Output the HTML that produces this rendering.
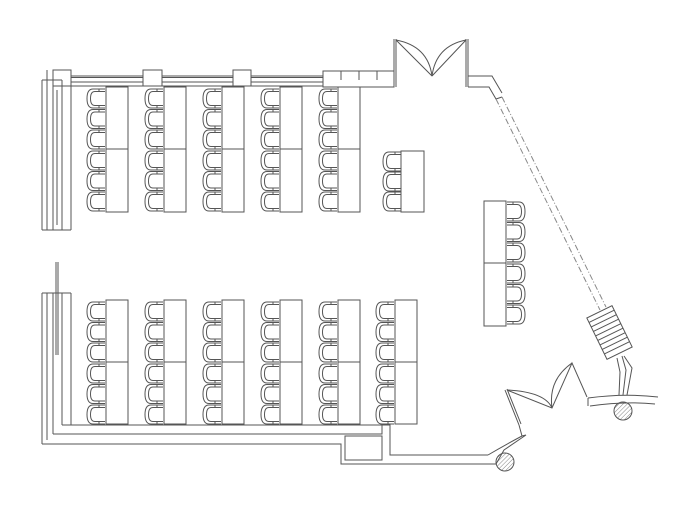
<!DOCTYPE html>
<html><head><meta charset="utf-8"><style>html,body{margin:0;padding:0;background:#fff}svg{display:block}</style></head>
<body>
<svg width="690" height="518" viewBox="0 0 690 518" xmlns="http://www.w3.org/2000/svg" fill="none" stroke="#555" stroke-width="1">
<defs>
<symbol id="c" viewBox="0 0 20 21" width="20" height="21" overflow="visible">
<path d="M19 1H7Q1 1 1 10.5Q1 20 7 20H19"/>
<path d="M19 3.5H9Q4.5 3.5 4.5 10.5Q4.5 17.5 9 17.5H19"/>
<path d="M13 1V3.5M13 17.5V20"/>
</symbol>
<symbol id="cr" viewBox="0 0 20 21" width="20" height="21" overflow="visible">
<path d="M1 1H13Q19 1 19 10.5Q19 20 13 20H1"/>
<path d="M1 3.5H11Q15.5 3.5 15.5 10.5Q15.5 17.5 11 17.5H1"/>
<path d="M7 1V3.5M7 17.5V20"/>
</symbol>
<pattern id="h" width="3" height="3" patternUnits="userSpaceOnUse" patternTransform="rotate(45)"><line x1="0" y1="0" x2="0" y2="3" stroke="#666" stroke-width="0.8"/></pattern>
</defs>

<!-- top wall -->
<path d="M53 76H394M71 77.5H394M71 82H323M62 86H323"/>
<rect x="53" y="70" width="18" height="16" fill="#fff"/>
<rect x="143" y="70" width="19" height="16" fill="#fff"/>
<rect x="233" y="70" width="18" height="16" fill="#fff"/>
<rect x="323" y="71" width="71" height="16" fill="#fff"/>
<path d="M341 71V80M359 71V80M377 71V80"/>
<!-- top door -->
<path d="M394 39V87M396 39V87M466 39V87M468 39V87"/>
<path d="M396 40L432 76M466 40L432 76"/>
<path d="M396 40Q428 46 432 76M466 40Q436 46 432 76"/>
<path d="M468 76H492L502 93M468 87H489L496 99L502 97"/>
<!-- diagonal wall -->
<path d="M496 99L600 310M502 97L606 307" stroke="#888" stroke-dasharray="6 2 1 2"/>
<!-- radiator -->
<g transform="translate(609.5 332.5) rotate(-26)">
<rect x="-14" y="-23" width="28" height="46" fill="#fff"/>
<path d="M-14 -18H14M-14 -13H14M-14 -8H14M-14 -3H14M-14 2H14M-14 7H14M-14 12H14M-14 17H14"/>
</g>
<path d="M617 358L620 372L619 395M622 356L626 370L623 395M624 356L632 368L627 395"/>
<!-- right curved wall -->
<path d="M588 398Q625 393 658 397M590 406Q625 401 655 404M588 398V406"/>
<circle cx="623" cy="411" r="9" fill="url(#h)"/>
<circle cx="505" cy="462" r="9" fill="url(#h)"/>
<!-- right bottom door -->
<path d="M505 390L519 425M507 389L521 424"/>
<path d="M507 390L552 408L572 363L587 397"/>
<path d="M507 390Q545 392 552 408M572 363Q548 380 552 408"/>
<path d="M519 425L522 436Q505 445 488 455M522 436L526 435L504 450L496 464"/>
<!-- left walls -->
<path d="M42 80V230M47 70V230M53 86V230M57 90V225M62 80V230M71 86V230"/>
<path d="M42 80H62M42 230H71"/>
<path d="M56 262V355M58 262V355"/>
<path d="M42 293H71M42 293V444M47 293V440M53 293V434M62 293V425M71 293V425"/>
<!-- bottom walls -->
<path d="M42 444H341V464H496M53 434H382V424M62 425H390V455H488"/>
<rect x="345" y="436" width="37" height="24"/>

<!-- top tables -->
<g>
<rect x="106" y="87" width="22" height="125"/><path d="M106 149H128"/>
<rect x="164" y="87" width="22" height="125"/><path d="M164 149H186"/>
<rect x="222" y="87" width="22" height="125"/><path d="M222 149H244"/>
<rect x="280" y="87" width="22" height="125"/><path d="M280 149H302"/>
<rect x="338" y="87" width="22" height="125"/><path d="M338 149H360"/>
</g>
<g id="ct">
<use href="#c" x="86" y="88"/><use href="#c" x="86" y="108.5"/><use href="#c" x="86" y="129"/>
<use href="#c" x="86" y="150"/><use href="#c" x="86" y="170.5"/><use href="#c" x="86" y="191"/>
</g>
<use href="#ct" x="58"/><use href="#ct" x="116"/><use href="#ct" x="174"/><use href="#ct" x="232"/>

<!-- bottom tables -->
<g>
<rect x="106" y="300" width="22" height="124"/><path d="M106 362H128"/>
<rect x="164" y="300" width="22" height="124"/><path d="M164 362H186"/>
<rect x="222" y="300" width="22" height="124"/><path d="M222 362H244"/>
<rect x="280" y="300" width="22" height="124"/><path d="M280 362H302"/>
<rect x="338" y="300" width="22" height="124"/><path d="M338 362H360"/>
<rect x="395" y="300" width="22" height="124"/><path d="M395 362H417"/>
</g>
<g id="cb">
<use href="#c" x="86" y="301"/><use href="#c" x="86" y="321.5"/><use href="#c" x="86" y="342"/>
<use href="#c" x="86" y="363"/><use href="#c" x="86" y="383.5"/><use href="#c" x="86" y="404"/>
</g>
<use href="#cb" x="58"/><use href="#cb" x="116"/><use href="#cb" x="174"/><use href="#cb" x="232"/><use href="#cb" x="289"/>

<!-- small table -->
<rect x="401" y="151" width="23" height="61"/>
<use href="#c" x="382" y="151"/><use href="#c" x="382" y="171"/><use href="#c" x="382" y="191"/>

<!-- right table -->
<rect x="484" y="201" width="22" height="125"/><path d="M484 263H506"/>
<use href="#cr" x="506" y="201"/><use href="#cr" x="506" y="221.5"/><use href="#cr" x="506" y="242"/>
<use href="#cr" x="506" y="263"/><use href="#cr" x="506" y="283.5"/><use href="#cr" x="506" y="304"/>
</svg>
</body></html>
